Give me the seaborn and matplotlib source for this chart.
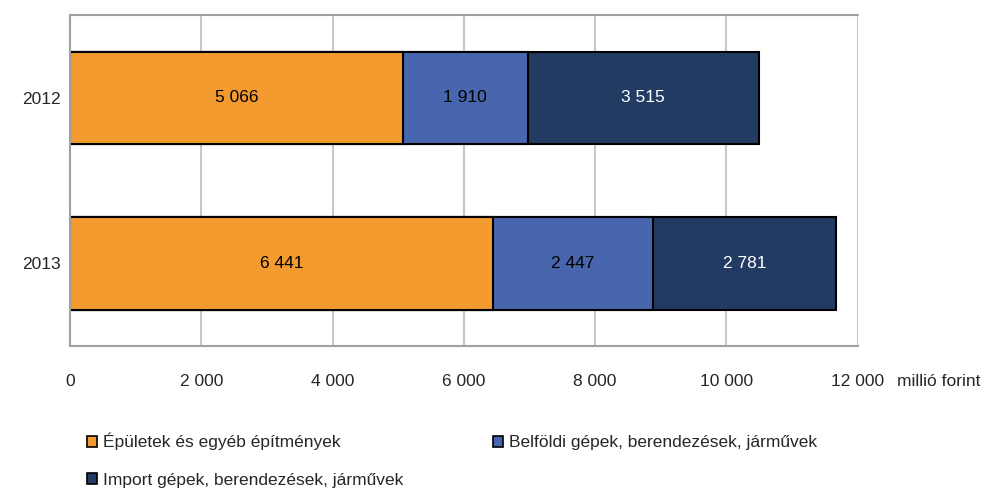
import matplotlib
matplotlib.use("Agg")
import matplotlib.pyplot as plt
from matplotlib.patches import Patch
import seaborn as sns
import pandas as pd

years = ["2012", "2013"]
epuletek = [5066, 6441]
belfoldi = [1910, 2447]
importg = [3515, 2781]
series_names = ["Épületek és egyéb építmények",
                "Belföldi gépek, berendezések, járművek",
                "Import gépek, berendezések, járművek"]
colors = ["#F39B2F", "#4766AE", "#213B63"]
text_colors = ["black", "black", "white"]
xticks = [0, 2000, 4000, 6000, 8000, 10000, 12000]

sns.set_style("white")
plt.rcParams['font.family'] = ['Liberation Sans Narrow', 'Liberation Sans', 'DejaVu Sans']

df = pd.DataFrame({"ev": years, "a": epuletek, "b": belfoldi, "c": importg})
df["ab"] = df["a"] + df["b"]
df["abc"] = df["ab"] + df["c"]

fig = plt.figure(figsize=(9.87, 4.91), dpi=100)
ax = fig.add_axes([0.071, 0.295, 0.798, 0.674])

# stacked: draw totals first, then overlay the partial sums
for col, c in zip(["abc", "ab", "a"], colors[::-1]):
    sns.barplot(data=df, x=col, y="ev", color=c, width=0.56, orient="h",
                edgecolor="black", linewidth=1.5, saturation=1, ax=ax)

# value labels
vals = [epuletek, belfoldi, importg]
for i in range(len(years)):
    left = 0
    for s in range(3):
        v = vals[s][i]
        ax.text(left + v / 2, i, f"{v:,}".replace(",", " "), ha="center", va="center",
                fontsize=12.5, color=text_colors[s])
        left += v

ax.set_xlim(0, 12000)
ax.set_ylim(1.5, -0.5)
ax.set_xticks(xticks)
ax.set_xticklabels([f"{t:,}".replace(",", " ") for t in xticks], fontsize=12.5)
ax.set_yticks([-0.5, 0.5, 1.5], minor=False)
ax.set_yticklabels(["", "", ""])
ax.set_yticks([0, 1], minor=True)
ax.set_yticklabels(years, minor=True, fontsize=12.5)
ax.tick_params(axis="y", which="minor", length=0, pad=7)
ax.tick_params(axis="y", which="major", length=6, color="#a0a0a0", width=1.5)
ax.tick_params(axis="x", length=6, color="#a0a0a0", width=1.5, pad=14)
ax.set_xlabel("")
ax.set_ylabel("")
ax.grid(axis="x", color="#c8c8c8", linewidth=1.5)
ax.set_axisbelow(True)
for side in ["top", "right"]:
    ax.spines[side].set_visible(False)
ax.spines["left"].set_color("#a0a0a0")
ax.spines["left"].set_linewidth(1.5)
ax.spines["bottom"].set_color("#a0a0a0")
ax.spines["bottom"].set_linewidth(1.5)
ax.axhline(-0.5, color="#a0a0a0", linewidth=1.5, clip_on=False)

fig.text(0.909, 0.224, "millió forint", fontsize=12.5, va="center")

# reorder so the legend fills row by row
order = [0, 2, 1]
handles = [Patch(facecolor=colors[k], edgecolor="black", linewidth=1.2) for k in order]
labels = [series_names[k] for k in order]
fig.legend(handles, labels, loc="upper left", bbox_to_anchor=(0.072, 0.15),
           ncol=2, frameon=False, fontsize=12.5, handlelength=0.6, handleheight=0.6,
           handletextpad=0.35, columnspacing=5.15, labelspacing=1.3)

fig.savefig("out.png", dpi=100)
